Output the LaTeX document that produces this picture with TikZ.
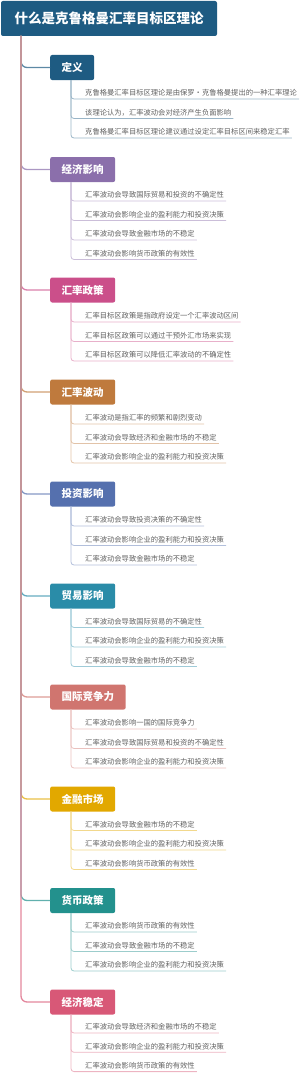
\documentclass[tikz,border=0pt]{standalone}
\usepackage{fontspec}
\setmainfont{Noto Sans CJK SC}
\usepackage{tikz}
\usetikzlibrary{positioning,calc}

\definecolor{rootblue}{HTML}{1E5B82}
\definecolor{cdef}{HTML}{1E5B82}
\definecolor{cecon}{HTML}{8B6FAB}
\definecolor{cpol}{HTML}{CB4F8A}
\definecolor{cvol}{HTML}{BF7A3D}
\definecolor{cinv}{HTML}{5570AE}
\definecolor{ctrade}{HTML}{2A8CA8}
\definecolor{ccomp}{HTML}{D0756F}
\definecolor{cfin}{HTML}{E2A800}
\definecolor{cmon}{HTML}{23918D}
\definecolor{cstab}{HTML}{D85877}

\begin{document}
\begin{tikzpicture}[x=1pt,y=-1pt,
  rootbox/.style={fill=rootblue,rounded corners=2pt,text=white,inner sep=0pt,
    minimum width=216pt,minimum height=35pt,font=\fontsize{13.5}{16}\selectfont\bfseries},
  topic/.style={fill=#1,rounded corners=2pt,text=white,anchor=west,inner xsep=11.5pt,
    inner ysep=0pt,minimum height=25pt,font=\fontsize{10.5}{12}\selectfont\bfseries},
  leaf/.style={anchor=south west,inner xsep=2pt,inner ysep=2.5pt,text=black!62,
    font=\fontsize{7.3}{8}\selectfont},
  link/.style={draw=#1!72!white,line width=1.3pt,rounded corners=6pt},
  twig/.style={draw=#1!45!white,line width=0.8pt,rounded corners=3pt}]
  \useasboundingbox (0,0) rectangle (300,1073);

  \node[rootbox] (root) at (109,18.5) {什么是克鲁格曼汇率目标区理论};
  \coordinate (trunk) at (21,36);

  \node[topic=cdef] (def) at (50,67.5) {定义};
    \node[leaf] (def1) at (83,99) {克鲁格曼汇率目标区理论是由保罗·克鲁格曼提出的一种汇率理论};
    \node[leaf] (def2) at (83,118.5) {该理论认为，汇率波动会对经济产生负面影响};
    \node[leaf] (def3) at (83,138) {克鲁格曼汇率目标区理论建议通过设定汇率目标区间来稳定汇率};

  \node[topic=cecon] (econ) at (50,169.5) {经济影响};
    \node[leaf] (econ1) at (83,201) {汇率波动会导致国际贸易和投资的不确定性};
    \node[leaf] (econ2) at (83,220.5) {汇率波动会影响企业的盈利能力和投资决策};
    \node[leaf] (econ3) at (83,240) {汇率波动会导致金融市场的不稳定};
    \node[leaf] (econ4) at (83,259.5) {汇率波动会影响货币政策的有效性};

  \node[topic=cpol] (pol) at (50,290) {汇率政策};
    \node[leaf] (pol1) at (83,322) {汇率目标区政策是指政府设定一个汇率波动区间};
    \node[leaf] (pol2) at (83,341.5) {汇率目标区政策可以通过干预外汇市场来实现};
    \node[leaf] (pol3) at (83,361) {汇率目标区政策可以降低汇率波动的不确定性};

  \node[topic=cvol] (vol) at (50,392) {汇率波动};
    \node[leaf] (vol1) at (83,424) {汇率波动是指汇率的频繁和剧烈变动};
    \node[leaf] (vol2) at (83,443.5) {汇率波动会导致经济和金融市场的不稳定};
    \node[leaf] (vol3) at (83,463) {汇率波动会影响企业的盈利能力和投资决策};

  \node[topic=cinv] (inv) at (50,494) {投资影响};
    \node[leaf] (inv1) at (83,526) {汇率波动会导致投资决策的不确定性};
    \node[leaf] (inv2) at (83,545.5) {汇率波动会影响企业的盈利能力和投资决策};
    \node[leaf] (inv3) at (83,565) {汇率波动会导致金融市场的不稳定};

  \node[topic=ctrade] (trade) at (50,596) {贸易影响};
    \node[leaf] (trade1) at (83,627.5) {汇率波动会导致国际贸易的不确定性};
    \node[leaf] (trade2) at (83,647) {汇率波动会影响企业的盈利能力和投资决策};
    \node[leaf] (trade3) at (83,666.5) {汇率波动会导致金融市场的不稳定};

  \node[topic=ccomp] (comp) at (50,697) {国际竞争力};
    \node[leaf] (comp1) at (83,729) {汇率波动会影响一国的国际竞争力};
    \node[leaf] (comp2) at (83,748.5) {汇率波动会导致国际贸易和投资的不确定性};
    \node[leaf] (comp3) at (83,768) {汇率波动会影响企业的盈利能力和投资决策};

  \node[topic=cfin] (fin) at (50,799) {金融市场};
    \node[leaf] (fin1) at (83,830.5) {汇率波动会导致金融市场的不稳定};
    \node[leaf] (fin2) at (83,850) {汇率波动会影响企业的盈利能力和投资决策};
    \node[leaf] (fin3) at (83,869.5) {汇率波动会影响货币政策的有效性};

  \node[topic=cmon] (mon) at (50,900.5) {货币政策};
    \node[leaf] (mon1) at (83,932) {汇率波动会影响货币政策的有效性};
    \node[leaf] (mon2) at (83,951.5) {汇率波动会导致金融市场的不稳定};
    \node[leaf] (mon3) at (83,971) {汇率波动会影响企业的盈利能力和投资决策};

  \node[topic=cstab] (stab) at (50,1002) {经济稳定};
    \node[leaf] (stab1) at (83,1033) {汇率波动会导致经济和金融市场的不稳定};
    \node[leaf] (stab2) at (83,1052.3) {汇率波动会影响企业的盈利能力和投资决策};
    \node[leaf] (stab3) at (83,1071.6) {汇率波动会影响货币政策的有效性};

  \draw[link=cdef] (trunk) |- (def.west);
  \draw[link=cecon] (trunk) |- (econ.west);
  \draw[link=cpol] (trunk) |- (pol.west);
  \draw[link=cvol] (trunk) |- (vol.west);
  \draw[link=cinv] (trunk) |- (inv.west);
  \draw[link=ctrade] (trunk) |- (trade.west);
  \draw[link=ccomp] (trunk) |- (comp.west);
  \draw[link=cfin] (trunk) |- (fin.west);
  \draw[link=cmon] (trunk) |- (mon.west);
  \draw[link=cstab] (trunk) |- (stab.west);

  \draw[twig=cdef] ([xshift=21pt]def.south west) |- (def1.south east);
  \draw[twig=cdef] ([xshift=21pt]def.south west) |- (def2.south east);
  \draw[twig=cdef] ([xshift=21pt]def.south west) |- (def3.south east);
  \draw[twig=cecon] ([xshift=21pt]econ.south west) |- (econ1.south east);
  \draw[twig=cecon] ([xshift=21pt]econ.south west) |- (econ2.south east);
  \draw[twig=cecon] ([xshift=21pt]econ.south west) |- (econ3.south east);
  \draw[twig=cecon] ([xshift=21pt]econ.south west) |- (econ4.south east);
  \draw[twig=cpol] ([xshift=21pt]pol.south west) |- (pol1.south east);
  \draw[twig=cpol] ([xshift=21pt]pol.south west) |- (pol2.south east);
  \draw[twig=cpol] ([xshift=21pt]pol.south west) |- (pol3.south east);
  \draw[twig=cvol] ([xshift=21pt]vol.south west) |- (vol1.south east);
  \draw[twig=cvol] ([xshift=21pt]vol.south west) |- (vol2.south east);
  \draw[twig=cvol] ([xshift=21pt]vol.south west) |- (vol3.south east);
  \draw[twig=cinv] ([xshift=21pt]inv.south west) |- (inv1.south east);
  \draw[twig=cinv] ([xshift=21pt]inv.south west) |- (inv2.south east);
  \draw[twig=cinv] ([xshift=21pt]inv.south west) |- (inv3.south east);
  \draw[twig=ctrade] ([xshift=21pt]trade.south west) |- (trade1.south east);
  \draw[twig=ctrade] ([xshift=21pt]trade.south west) |- (trade2.south east);
  \draw[twig=ctrade] ([xshift=21pt]trade.south west) |- (trade3.south east);
  \draw[twig=ccomp] ([xshift=21pt]comp.south west) |- (comp1.south east);
  \draw[twig=ccomp] ([xshift=21pt]comp.south west) |- (comp2.south east);
  \draw[twig=ccomp] ([xshift=21pt]comp.south west) |- (comp3.south east);
  \draw[twig=cfin] ([xshift=21pt]fin.south west) |- (fin1.south east);
  \draw[twig=cfin] ([xshift=21pt]fin.south west) |- (fin2.south east);
  \draw[twig=cfin] ([xshift=21pt]fin.south west) |- (fin3.south east);
  \draw[twig=cmon] ([xshift=21pt]mon.south west) |- (mon1.south east);
  \draw[twig=cmon] ([xshift=21pt]mon.south west) |- (mon2.south east);
  \draw[twig=cmon] ([xshift=21pt]mon.south west) |- (mon3.south east);
  \draw[twig=cstab] ([xshift=21pt]stab.south west) |- (stab1.south east);
  \draw[twig=cstab] ([xshift=21pt]stab.south west) |- (stab2.south east);
  \draw[twig=cstab] ([xshift=21pt]stab.south west) |- (stab3.south east);
\end{tikzpicture}
\end{document}
